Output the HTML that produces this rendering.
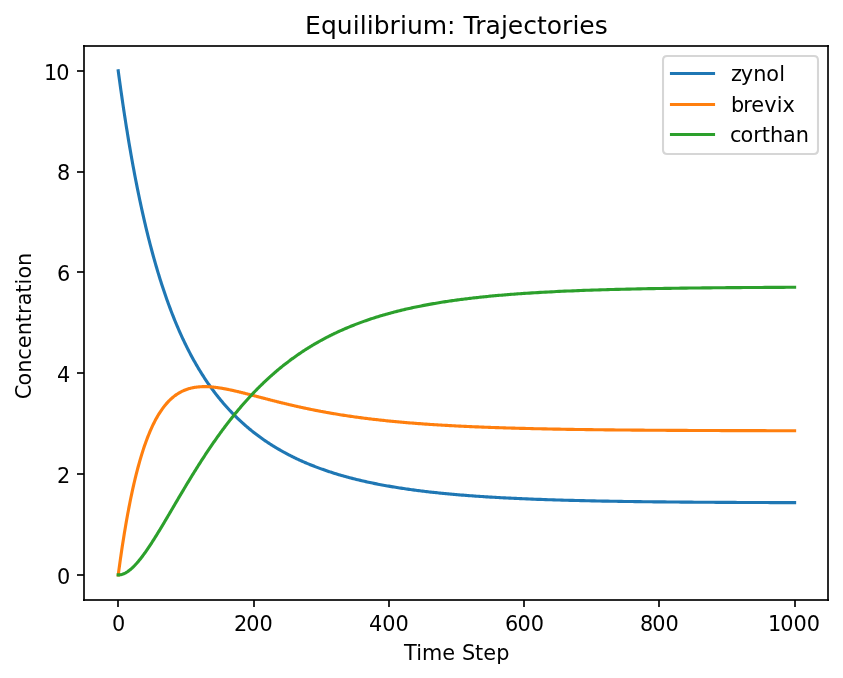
<!DOCTYPE html>
<html lang="en">
<head>
<meta charset="utf-8">
<title>Equilibrium: Trajectories</title>
<style>
html,body{margin:0;padding:0;background:#ffffff;}
body{width:843px;height:678px;overflow:hidden;}
svg{display:block;}
svg text{font-family:"DejaVu Sans","Liberation Sans",sans-serif;fill:#000000;}
.curve{fill:none;stroke-width:3.125;stroke-linecap:square;stroke-linejoin:round;}
.ax{fill:#000000;fill-opacity:0.835;}
</style>
</head>
<body>
<svg width="843" height="678" viewBox="0 0 843 678">
<rect x="0" y="0" width="843" height="678" fill="#ffffff"/>

<g class="ax" shape-rendering="crispEdges">
<rect x="117" y="600" width="2" height="7"/>
<rect x="253" y="600" width="2" height="7"/>
<rect x="388" y="600" width="2" height="7"/>
<rect x="523" y="600" width="2" height="7"/>
<rect x="658" y="600" width="2" height="7"/>
<rect x="794" y="600" width="2" height="7"/>
<rect x="77" y="70" width="7" height="2"/>
<rect x="77" y="171" width="7" height="2"/>
<rect x="77" y="271" width="7" height="2"/>
<rect x="77" y="372" width="7" height="2"/>
<rect x="77" y="473" width="7" height="2"/>
<rect x="77" y="574" width="7" height="2"/>
</g>
<g font-size="20.833">
<text x="111.98" y="630.56" font-size="20.833">0</text>
<text x="233.88 246.13 259.38" y="630.56" font-size="20.833">200</text>
<text x="368.9 382.15 395.4" y="630.56" font-size="20.833">400</text>
<text x="504.93 517.43 530.68" y="630.56" font-size="20.833">600</text>
<text x="639.95 652.2 665.45" y="630.56" font-size="20.833">800</text>
<text x="767.97 780.22 793.47 806.72" y="630.56" font-size="20.833">1000</text>
<text x="56.94" y="583.61" font-size="20.833">0</text>
<text x="56.94" y="482.56" font-size="20.833">2</text>
<text x="56.94" y="381.51" font-size="20.833">4</text>
<text x="56.94" y="280.59" font-size="20.833">6</text>
<text x="56.94" y="179.54" font-size="20.833">8</text>
<text x="43.94 56.19" y="79.61" font-size="20.833">10</text>
<text x="403.91 416.15 421.97 442.16 455.13 461.9 474.9 483.22 496.19" y="659.56" font-size="20.833">Time Step</text>
<text x="-42.38 -28.61 -15.89 -2.84 8.71 21.64 34.69 42.96 51.63 64.25 72.39 78.41 90.88" y="326.45" font-size="20.833" transform="rotate(-90 30.54 326.45)">Concentration</text>
</g>
<clipPath id="axclip"><rect x="84.42" y="45.68" width="744" height="554.4"/></clipPath>
<g clip-path="url(#axclip)">
<path class="curve" stroke="#1f77b4" d="M118.23 70.88L118.91 75.92 119.59 80.89 120.26 85.78 120.94 90.60 121.62 95.34 122.29 100.02 122.97 104.62 123.65 109.16 124.32 113.63 125.00 118.04 125.67 122.38 126.35 126.66 127.03 130.87 127.70 135.03 128.38 139.12 129.06 143.15 129.73 147.13 130.41 151.05 131.09 154.92 131.76 158.73 132.44 162.48 133.11 166.18 133.79 169.83 134.47 173.43 135.14 176.98 135.82 180.48 136.50 183.92 137.17 187.33 137.85 190.68 138.53 193.99 139.20 197.25 139.88 200.47 140.55 203.64 141.23 206.77 141.91 209.86 142.58 212.90 143.26 215.91 143.94 218.87 144.61 221.79 145.29 224.68 145.97 227.52 146.64 230.33 147.32 233.10 147.99 235.84 148.67 238.53 149.35 241.20 150.02 243.82 150.70 246.42 151.38 248.98 152.05 251.50 152.73 254.00 153.41 256.46 154.08 258.89 154.76 261.29 155.43 263.66 156.11 266.00 156.79 268.30 157.46 270.58 158.14 272.83 158.82 275.06 159.49 277.25 160.17 279.42 160.85 281.56 161.52 283.67 162.20 285.76 162.87 287.82 163.55 289.86 164.23 291.87 164.90 293.86 165.58 295.82 166.26 297.76 166.93 299.68 167.61 301.57 168.29 303.44 168.96 305.29 169.64 307.12 170.31 308.92 170.99 310.70 171.67 312.47 172.34 314.21 173.02 315.93 173.70 317.63 174.37 319.31 175.05 320.97 175.73 322.62 176.40 324.24 177.08 325.85 177.75 327.43 178.43 329.00 179.11 330.55 179.78 332.09 180.46 333.60 181.14 335.10 181.81 336.58 182.49 338.05 183.17 339.50 183.84 340.93 184.52 342.35 185.19 343.75 185.87 345.14 186.55 346.51 187.22 347.87 187.90 349.21 188.58 350.54 189.25 351.85 189.93 353.15 190.61 354.43 191.28 355.70 191.96 356.96 192.63 358.21 193.31 359.44 193.99 360.66 194.66 361.86 195.34 363.05 196.02 364.23 196.69 365.40 197.37 366.56 198.05 367.70 198.72 368.83 199.40 369.96 200.07 371.06 200.75 372.16 201.43 373.25 202.10 374.32 202.78 375.39 203.46 376.44 204.13 377.49 204.81 378.52 205.49 379.54 206.16 380.55 206.84 381.55 207.51 382.55 208.19 383.53 208.87 384.50 209.54 385.47 210.22 386.42 210.90 387.36 211.57 388.30 212.25 389.22 212.93 390.14 213.60 391.05 214.28 391.95 214.95 392.84 215.63 393.72 216.31 394.60 216.98 395.46 217.66 396.32 218.34 397.17 219.01 398.01 219.69 398.85 220.37 399.67 221.04 400.49 221.72 401.30 222.39 402.10 223.07 402.90 223.75 403.68 224.42 404.47 225.10 405.24 225.78 406.01 226.45 406.76 227.13 407.52 227.81 408.26 228.48 409.00 229.16 409.73 229.83 410.46 230.51 411.18 231.19 411.89 231.86 412.60 232.54 413.30 233.22 413.99 233.89 414.68 234.57 415.36 235.25 416.03 235.92 416.70 236.60 417.36 237.27 418.02 237.95 418.67 238.63 419.32 239.30 419.96 239.98 420.59 240.66 421.22 241.33 421.85 242.01 422.47 242.69 423.08 243.36 423.69 244.04 424.29 244.71 424.89 245.39 425.48 246.07 426.07 246.74 426.65 247.42 427.22 248.10 427.80 248.77 428.36 249.45 428.93 250.13 429.48 250.80 430.04 251.48 430.59 252.15 431.13 252.83 431.67 253.51 432.20 254.18 432.73 254.86 433.26 255.54 433.78 256.21 434.30 256.89 434.81 257.57 435.32 258.24 435.82 258.92 436.32 259.59 436.82 260.27 437.31 260.95 437.80 261.62 438.28 262.30 438.76 262.98 439.24 263.65 439.71 264.33 440.18 265.01 440.64 265.68 441.11 266.36 441.56 267.03 442.02 267.71 442.47 268.39 442.91 269.06 443.35 269.74 443.79 270.42 444.23 271.09 444.66 271.77 445.09 272.45 445.51 273.12 445.94 273.80 446.35 274.47 446.77 275.15 447.18 275.83 447.59 276.50 448.00 277.18 448.40 277.86 448.80 278.53 449.19 279.21 449.58 279.89 449.97 280.56 450.36 281.24 450.74 281.91 451.12 282.59 451.50 283.27 451.88 283.94 452.25 284.62 452.62 285.30 452.98 285.97 453.35 286.65 453.71 287.33 454.06 288.00 454.42 288.68 454.77 289.35 455.12 290.03 455.47 290.71 455.81 291.38 456.15 292.06 456.49 292.74 456.83 293.41 457.16 294.09 457.49 294.77 457.82 295.44 458.14 296.12 458.47 296.79 458.79 297.47 459.11 298.15 459.42 298.82 459.74 299.50 460.05 300.18 460.36 300.85 460.66 301.53 460.97 302.21 461.27 302.88 461.57 303.56 461.86 304.23 462.16 304.91 462.45 305.59 462.74 306.26 463.03 306.94 463.32 307.62 463.60 308.29 463.88 308.97 464.16 309.65 464.44 310.32 464.72 311.00 464.99 311.67 465.26 312.35 465.53 313.03 465.80 313.70 466.07 314.38 466.33 315.06 466.59 315.73 466.85 316.41 467.11 317.09 467.36 317.76 467.62 318.44 467.87 319.11 468.12 319.79 468.37 320.47 468.62 321.14 468.86 321.82 469.10 322.50 469.34 323.17 469.58 323.85 469.82 324.53 470.06 325.20 470.29 325.88 470.52 326.55 470.75 327.23 470.98 327.91 471.21 328.58 471.44 329.26 471.66 329.94 471.88 330.61 472.10 331.29 472.32 331.97 472.54 332.64 472.75 333.32 472.97 333.99 473.18 334.67 473.39 336.02 473.81 337.38 474.22 338.73 474.63 340.08 475.03 341.43 475.42 342.79 475.81 344.14 476.19 345.49 476.57 346.85 476.94 348.20 477.31 349.55 477.67 350.90 478.02 352.26 478.37 353.61 478.72 354.96 479.06 356.31 479.40 357.67 479.73 359.02 480.05 360.37 480.37 361.73 480.69 363.08 481.00 364.43 481.31 365.78 481.61 367.14 481.91 368.49 482.21 369.84 482.50 371.19 482.79 372.55 483.07 373.90 483.35 375.25 483.62 376.61 483.89 377.96 484.16 379.31 484.42 380.66 484.68 382.02 484.94 383.37 485.19 384.72 485.44 386.07 485.68 387.43 485.92 388.78 486.16 390.13 486.40 391.49 486.63 392.84 486.85 394.19 487.08 395.54 487.30 396.90 487.52 398.25 487.73 399.60 487.95 400.95 488.16 402.31 488.36 403.66 488.57 405.01 488.77 406.37 488.96 407.72 489.16 409.07 489.35 410.42 489.54 411.78 489.73 413.13 489.91 414.48 490.09 415.83 490.27 417.19 490.45 418.54 490.62 419.89 490.79 421.25 490.96 422.60 491.13 423.95 491.29 425.30 491.46 426.66 491.62 428.01 491.77 429.36 491.93 430.71 492.08 432.07 492.23 433.42 492.38 434.77 492.53 436.13 492.67 437.48 492.82 438.83 492.96 440.18 493.10 441.54 493.23 442.89 493.37 444.24 493.50 445.59 493.63 446.95 493.76 448.30 493.89 449.65 494.01 451.01 494.14 452.36 494.26 453.71 494.38 455.06 494.50 456.42 494.62 457.77 494.73 459.12 494.85 460.47 494.96 461.83 495.07 463.18 495.18 464.53 495.29 465.89 495.39 467.24 495.50 468.59 495.60 469.94 495.70 471.30 495.80 472.65 495.90 474.00 496.00 475.35 496.09 476.71 496.19 478.06 496.28 479.41 496.37 480.77 496.47 482.12 496.56 483.47 496.64 484.82 496.73 486.18 496.82 487.53 496.90 488.88 496.99 490.23 497.07 491.59 497.15 492.94 497.23 494.29 497.31 495.65 497.39 497.00 497.46 498.35 497.54 499.70 497.61 501.06 497.69 502.41 497.76 503.76 497.83 505.11 497.90 506.47 497.97 507.82 498.04 509.17 498.11 510.53 498.17 511.88 498.24 513.23 498.30 514.58 498.37 515.94 498.43 517.29 498.49 518.64 498.55 519.99 498.61 521.35 498.67 522.70 498.73 524.05 498.79 526.76 498.90 529.46 499.01 532.17 499.12 534.87 499.23 537.58 499.33 540.29 499.43 542.99 499.52 545.70 499.61 548.40 499.71 551.11 499.79 553.81 499.88 556.52 499.96 559.22 500.04 561.93 500.12 564.63 500.20 567.34 500.27 570.05 500.35 572.75 500.42 575.46 500.48 578.16 500.55 580.87 500.62 583.57 500.68 586.28 500.74 588.98 500.80 591.69 500.86 594.39 500.91 597.10 500.97 599.81 501.02 602.51 501.07 605.22 501.12 607.92 501.17 610.63 501.22 613.33 501.26 616.04 501.31 618.74 501.35 621.45 501.40 624.15 501.44 626.86 501.48 629.57 501.52 632.27 501.55 634.98 501.59 637.68 501.63 640.39 501.66 643.09 501.69 645.80 501.73 648.50 501.76 651.21 501.79 653.91 501.82 656.62 501.85 659.33 501.88 662.03 501.91 664.74 501.93 667.44 501.96 670.15 501.99 672.85 502.01 675.56 502.04 678.26 502.06 680.97 502.08 683.67 502.10 686.38 502.13 689.09 502.15 691.79 502.17 694.50 502.19 697.20 502.21 699.91 502.22 702.61 502.24 705.32 502.26 708.02 502.28 710.73 502.29 713.43 502.31 716.14 502.33 718.85 502.34 721.55 502.36 724.26 502.37 726.96 502.39 729.67 502.40 732.37 502.41 735.08 502.43 737.78 502.44 740.49 502.45 743.19 502.46 745.90 502.47 748.61 502.49 751.31 502.50 754.02 502.51 756.72 502.52 759.43 502.53 762.13 502.54 764.84 502.55 767.54 502.56 770.25 502.57 772.95 502.57 775.66 502.58 778.37 502.59 781.07 502.60 783.78 502.61 786.48 502.62 789.19 502.62 791.89 502.63 794.60 502.64"/>
<path class="curve" stroke="#ff7f0e" d="M118.23 574.88L118.91 569.84 119.59 564.92 120.26 560.11 120.94 555.41 121.62 550.82 122.29 546.33 122.97 541.95 123.65 537.68 124.32 533.50 125.00 529.42 125.67 525.43 126.35 521.54 127.03 517.75 127.70 514.04 128.38 510.42 129.06 506.88 129.73 503.43 130.41 500.06 131.09 496.78 131.76 493.57 132.44 490.44 133.11 487.38 133.79 484.40 134.47 481.49 135.14 478.66 135.82 475.89 136.50 473.19 137.17 470.56 137.85 467.99 138.53 465.49 139.20 463.04 139.88 460.66 140.55 458.34 141.23 456.08 141.91 453.87 142.58 451.73 143.26 449.63 143.94 447.59 144.61 445.60 145.29 443.67 145.97 441.78 146.64 439.94 147.32 438.15 147.99 436.41 148.67 434.71 149.35 433.06 150.02 431.46 150.70 429.89 151.38 428.37 152.05 426.89 152.73 425.45 153.41 424.05 154.08 422.69 154.76 421.36 155.43 420.07 156.11 418.82 156.79 417.61 157.46 416.42 158.14 415.28 158.82 414.16 159.49 413.08 160.17 412.03 160.85 411.01 161.52 410.02 162.20 409.06 162.87 408.12 163.55 407.22 164.23 406.35 164.90 405.50 165.58 404.67 166.26 403.88 166.93 403.11 167.61 402.36 168.29 401.64 168.96 400.94 169.64 400.26 170.31 399.61 170.99 398.97 171.67 398.36 172.34 397.77 173.02 397.20 173.70 396.65 174.37 396.13 175.05 395.61 175.73 395.12 176.40 394.65 177.08 394.19 177.75 393.75 178.43 393.33 179.11 392.93 179.78 392.54 180.46 392.17 181.14 391.81 181.81 391.47 182.49 391.14 183.17 390.83 183.84 390.53 184.52 390.24 185.19 389.97 185.87 389.71 186.55 389.46 187.22 389.23 187.90 389.01 188.58 388.80 189.25 388.60 189.93 388.41 190.61 388.23 191.28 388.07 191.96 387.91 192.63 387.77 193.31 387.63 193.99 387.51 194.66 387.39 195.34 387.28 196.02 387.19 196.69 387.10 197.37 387.02 198.05 386.95 198.72 386.88 199.40 386.82 200.07 386.78 200.75 386.74 201.43 386.70 202.10 386.67 202.78 386.65 203.46 386.64 204.13 386.64 204.81 386.64 205.49 386.64 206.16 386.65 206.84 386.67 207.51 386.69 208.19 386.72 208.87 386.76 209.54 386.80 210.22 386.84 210.90 386.89 211.57 386.95 212.25 387.01 212.93 387.07 213.60 387.14 214.28 387.21 214.95 387.29 215.63 387.37 216.31 387.45 216.98 387.54 217.66 387.64 218.34 387.73 219.01 387.83 219.69 387.93 220.37 388.04 221.04 388.15 221.72 388.26 222.39 388.38 223.07 388.49 223.75 388.61 224.42 388.74 225.10 388.86 225.78 388.99 226.45 389.12 227.13 389.26 227.81 389.39 228.48 389.53 229.16 389.67 229.83 389.81 230.51 389.95 231.19 390.10 231.86 390.25 232.54 390.40 233.22 390.55 233.89 390.70 234.57 390.85 235.25 391.01 235.92 391.17 236.60 391.32 237.27 391.48 237.95 391.64 238.63 391.81 239.30 391.97 239.98 392.13 240.66 392.30 241.33 392.46 242.01 392.63 242.69 392.80 243.36 392.97 244.04 393.14 244.71 393.31 245.39 393.48 246.07 393.65 246.74 393.82 247.42 393.99 248.10 394.17 248.77 394.34 249.45 394.51 250.13 394.69 250.80 394.86 251.48 395.04 252.15 395.21 252.83 395.39 253.51 395.57 254.18 395.74 254.86 395.92 255.54 396.10 256.21 396.27 256.89 396.45 257.57 396.63 258.24 396.80 258.92 396.98 259.59 397.16 260.27 397.33 260.95 397.51 261.62 397.69 262.30 397.86 262.98 398.04 263.65 398.22 264.33 398.39 265.01 398.57 265.68 398.75 266.36 398.92 267.03 399.10 267.71 399.27 268.39 399.45 269.06 399.62 269.74 399.80 270.42 399.97 271.09 400.14 271.77 400.32 272.45 400.49 273.12 400.66 273.80 400.83 274.47 401.01 275.15 401.18 275.83 401.35 276.50 401.52 277.18 401.69 277.86 401.86 278.53 402.03 279.21 402.19 279.89 402.36 280.56 402.53 281.24 402.70 281.91 402.86 282.59 403.03 283.27 403.19 283.94 403.36 284.62 403.52 285.30 403.69 285.97 403.85 286.65 404.01 287.33 404.17 288.00 404.33 288.68 404.50 289.35 404.66 290.03 404.81 290.71 404.97 291.38 405.13 292.06 405.29 292.74 405.45 293.41 405.60 294.09 405.76 294.77 405.91 295.44 406.07 296.12 406.22 296.79 406.37 297.47 406.52 298.15 406.68 298.82 406.83 299.50 406.98 300.18 407.13 300.85 407.27 301.53 407.42 302.21 407.57 302.88 407.72 303.56 407.86 304.23 408.01 304.91 408.15 305.59 408.30 306.26 408.44 306.94 408.58 307.62 408.72 308.29 408.86 308.97 409.00 309.65 409.14 310.32 409.28 311.00 409.42 311.67 409.56 312.35 409.70 313.03 409.83 313.70 409.97 314.38 410.10 315.06 410.24 315.73 410.37 316.41 410.50 317.09 410.63 317.76 410.76 318.44 410.90 319.11 411.02 319.79 411.15 320.47 411.28 321.14 411.41 321.82 411.54 322.50 411.66 323.17 411.79 323.85 411.91 324.53 412.04 325.20 412.16 325.88 412.28 326.55 412.41 327.23 412.53 327.91 412.65 328.58 412.77 329.26 412.89 329.94 413.01 330.61 413.12 331.29 413.24 331.97 413.36 332.64 413.47 333.32 413.59 333.99 413.70 334.67 413.82 336.02 414.04 337.38 414.27 338.73 414.49 340.08 414.70 341.43 414.92 342.79 415.13 344.14 415.34 345.49 415.55 346.85 415.75 348.20 415.96 349.55 416.16 350.90 416.35 352.26 416.55 353.61 416.74 354.96 416.93 356.31 417.12 357.67 417.31 359.02 417.49 360.37 417.67 361.73 417.85 363.08 418.02 364.43 418.20 365.78 418.37 367.14 418.54 368.49 418.71 369.84 418.87 371.19 419.04 372.55 419.20 373.90 419.36 375.25 419.51 376.61 419.67 377.96 419.82 379.31 419.97 380.66 420.12 382.02 420.27 383.37 420.41 384.72 420.56 386.07 420.70 387.43 420.84 388.78 420.97 390.13 421.11 391.49 421.24 392.84 421.38 394.19 421.51 395.54 421.64 396.90 421.76 398.25 421.89 399.60 422.01 400.95 422.13 402.31 422.25 403.66 422.37 405.01 422.49 406.37 422.61 407.72 422.72 409.07 422.83 410.42 422.94 411.78 423.05 413.13 423.16 414.48 423.27 415.83 423.37 417.19 423.48 418.54 423.58 419.89 423.68 421.25 423.78 422.60 423.88 423.95 423.97 425.30 424.07 426.66 424.16 428.01 424.26 429.36 424.35 430.71 424.44 432.07 424.53 433.42 424.62 434.77 424.70 436.13 424.79 437.48 424.87 438.83 424.96 440.18 425.04 441.54 425.12 442.89 425.20 444.24 425.28 445.59 425.36 446.95 425.43 448.30 425.51 449.65 425.58 451.01 425.66 452.36 425.73 453.71 425.80 455.06 425.87 456.42 425.94 457.77 426.01 459.12 426.08 460.47 426.14 461.83 426.21 463.18 426.27 464.53 426.34 465.89 426.40 467.24 426.46 468.59 426.52 469.94 426.59 471.30 426.65 472.65 426.70 474.00 426.76 475.35 426.82 476.71 426.88 478.06 426.93 479.41 426.99 480.77 427.04 482.12 427.09 483.47 427.15 484.82 427.20 486.18 427.25 487.53 427.30 488.88 427.35 490.23 427.40 491.59 427.45 492.94 427.50 494.29 427.54 495.65 427.59 497.00 427.64 498.35 427.68 499.70 427.73 501.06 427.77 502.41 427.81 503.76 427.86 505.11 427.90 506.47 427.94 507.82 427.98 509.17 428.02 510.53 428.06 511.88 428.10 513.23 428.14 514.58 428.18 515.94 428.21 517.29 428.25 518.64 428.29 519.99 428.32 521.35 428.36 522.70 428.40 524.05 428.43 526.76 428.50 529.46 428.56 532.17 428.63 534.87 428.69 537.58 428.75 540.29 428.81 542.99 428.87 545.70 428.92 548.40 428.98 551.11 429.03 553.81 429.08 556.52 429.13 559.22 429.18 561.93 429.23 564.63 429.27 567.34 429.32 570.05 429.36 572.75 429.40 575.46 429.44 578.16 429.48 580.87 429.52 583.57 429.56 586.28 429.60 588.98 429.63 591.69 429.67 594.39 429.70 597.10 429.73 599.81 429.77 602.51 429.80 605.22 429.83 607.92 429.86 610.63 429.88 613.33 429.91 616.04 429.94 618.74 429.97 621.45 429.99 624.15 430.02 626.86 430.04 629.57 430.06 632.27 430.09 634.98 430.11 637.68 430.13 640.39 430.15 643.09 430.17 645.80 430.19 648.50 430.21 651.21 430.23 653.91 430.25 656.62 430.26 659.33 430.28 662.03 430.30 664.74 430.31 667.44 430.33 670.15 430.34 672.85 430.36 675.56 430.37 678.26 430.39 680.97 430.40 683.67 430.42 686.38 430.43 689.09 430.44 691.79 430.45 694.50 430.47 697.20 430.48 699.91 430.49 702.61 430.50 705.32 430.51 708.02 430.52 710.73 430.53 713.43 430.54 716.14 430.55 718.85 430.56 721.55 430.57 724.26 430.58 726.96 430.58 729.67 430.59 732.37 430.60 735.08 430.61 737.78 430.62 740.49 430.62 743.19 430.63 745.90 430.64 748.61 430.64 751.31 430.65 754.02 430.66 756.72 430.66 759.43 430.67 762.13 430.68 764.84 430.68 767.54 430.69 770.25 430.69 772.95 430.70 775.66 430.70 778.37 430.71 781.07 430.71 783.78 430.72 786.48 430.72 789.19 430.73 791.89 430.73 794.60 430.74"/>
<path class="curve" stroke="#2ca02c" d="M118.23 574.88L118.91 574.88 119.59 574.84 120.26 574.76 120.94 574.65 121.62 574.49 122.29 574.30 122.97 574.07 123.65 573.81 124.32 573.52 125.00 573.19 125.67 572.84 126.35 572.45 127.03 572.03 127.70 571.59 128.38 571.11 129.06 570.61 129.73 570.09 130.41 569.53 131.09 568.96 131.76 568.36 132.44 567.73 133.11 567.08 133.79 566.42 134.47 565.73 135.14 565.02 135.82 564.28 136.50 563.54 137.17 562.77 137.85 561.98 138.53 561.18 139.20 560.36 139.88 559.52 140.55 558.67 141.23 557.80 141.91 556.92 142.58 556.02 143.26 555.11 143.94 554.19 144.61 553.25 145.29 552.31 145.97 551.35 146.64 550.38 147.32 549.39 147.99 548.40 148.67 547.40 149.35 546.39 150.02 545.37 150.70 544.34 151.38 543.30 152.05 542.26 152.73 541.20 153.41 540.14 154.08 539.07 154.76 538.00 155.43 536.92 156.11 535.83 156.79 534.74 157.46 533.64 158.14 532.54 158.82 531.43 159.49 530.32 160.17 529.20 160.85 528.08 161.52 526.96 162.20 525.83 162.87 524.70 163.55 523.57 164.23 522.43 164.90 521.29 165.58 520.15 166.26 519.01 166.93 517.87 167.61 516.72 168.29 515.57 168.96 514.42 169.64 513.27 170.31 512.12 170.99 510.97 171.67 509.82 172.34 508.67 173.02 507.52 173.70 506.37 174.37 505.21 175.05 504.06 175.73 502.91 176.40 501.76 177.08 500.61 177.75 499.46 178.43 498.32 179.11 497.17 179.78 496.02 180.46 494.88 181.14 493.74 181.81 492.60 182.49 491.46 183.17 490.33 183.84 489.19 184.52 488.06 185.19 486.93 185.87 485.80 186.55 484.68 187.22 483.55 187.90 482.43 188.58 481.32 189.25 480.20 189.93 479.09 190.61 477.98 191.28 476.88 191.96 475.77 192.63 474.67 193.31 473.58 193.99 472.49 194.66 471.40 195.34 470.31 196.02 469.23 196.69 468.15 197.37 467.07 198.05 466.00 198.72 464.93 199.40 463.87 200.07 462.81 200.75 461.75 201.43 460.70 202.10 459.65 202.78 458.61 203.46 457.57 204.13 456.53 204.81 455.50 205.49 454.47 206.16 453.44 206.84 452.42 207.51 451.41 208.19 450.40 208.87 449.39 209.54 448.39 210.22 447.39 210.90 446.39 211.57 445.40 212.25 444.42 212.93 443.44 213.60 442.46 214.28 441.49 214.95 440.52 215.63 439.56 216.31 438.60 216.98 437.64 217.66 436.69 218.34 435.75 219.01 434.81 219.69 433.87 220.37 432.94 221.04 432.01 221.72 431.09 222.39 430.17 223.07 429.26 223.75 428.35 224.42 427.45 225.10 426.55 225.78 425.65 226.45 424.76 227.13 423.88 227.81 423.00 228.48 422.12 229.16 421.25 229.83 420.38 230.51 419.52 231.19 418.66 231.86 417.81 232.54 416.96 233.22 416.11 233.89 415.27 234.57 414.44 235.25 413.61 235.92 412.78 236.60 411.96 237.27 411.14 237.95 410.33 238.63 409.52 239.30 408.72 239.98 407.92 240.66 407.13 241.33 406.34 242.01 405.55 242.69 404.77 243.36 404.00 244.04 403.23 244.71 402.46 245.39 401.69 246.07 400.94 246.74 400.18 247.42 399.43 248.10 398.69 248.77 397.95 249.45 397.21 250.13 396.48 250.80 395.75 251.48 395.03 252.15 394.31 252.83 393.59 253.51 392.88 254.18 392.17 254.86 391.47 255.54 390.77 256.21 390.08 256.89 389.39 257.57 388.70 258.24 388.02 258.92 387.35 259.59 386.67 260.27 386.00 260.95 385.34 261.62 384.68 262.30 384.02 262.98 383.37 263.65 382.72 264.33 382.08 265.01 381.44 265.68 380.80 266.36 380.17 267.03 379.54 267.71 378.91 268.39 378.29 269.06 377.67 269.74 377.06 270.42 376.45 271.09 375.85 271.77 375.24 272.45 374.65 273.12 374.05 273.80 373.46 274.47 372.87 275.15 372.29 275.83 371.71 276.50 371.14 277.18 370.56 277.86 370.00 278.53 369.43 279.21 368.87 279.89 368.31 280.56 367.76 281.24 367.21 281.91 366.66 282.59 366.12 283.27 365.58 283.94 365.04 284.62 364.51 285.30 363.98 285.97 363.45 286.65 362.93 287.33 362.41 288.00 361.90 288.68 361.38 289.35 360.88 290.03 360.37 290.71 359.87 291.38 359.37 292.06 358.87 292.74 358.38 293.41 357.89 294.09 357.40 294.77 356.92 295.44 356.44 296.12 355.96 296.79 355.49 297.47 355.02 298.15 354.55 298.82 354.09 299.50 353.63 300.18 353.17 300.85 352.71 301.53 352.26 302.21 351.81 302.88 351.37 303.56 350.92 304.23 350.48 304.91 350.04 305.59 349.61 306.26 349.18 306.94 348.75 307.62 348.32 308.29 347.90 308.97 347.48 309.65 347.06 310.32 346.65 311.00 346.24 311.67 345.83 312.35 345.42 313.03 345.02 313.70 344.62 314.38 344.22 315.06 343.82 315.73 343.43 316.41 343.04 317.09 342.65 317.76 342.27 318.44 341.88 319.11 341.50 319.79 341.13 320.47 340.75 321.14 340.38 321.82 340.01 322.50 339.64 323.17 339.28 323.85 338.92 324.53 338.56 325.20 338.20 325.88 337.84 326.55 337.49 327.23 337.14 327.91 336.79 328.58 336.45 329.26 336.10 329.94 335.76 330.61 335.42 331.29 335.09 331.97 334.75 332.64 334.42 333.32 334.09 333.99 333.77 334.67 333.44 336.02 332.80 337.38 332.16 338.73 331.54 340.08 330.92 341.43 330.31 342.79 329.71 344.14 329.12 345.49 328.53 346.85 327.96 348.20 327.39 349.55 326.83 350.90 326.27 352.26 325.73 353.61 325.19 354.96 324.66 356.31 324.13 357.67 323.62 359.02 323.11 360.37 322.61 361.73 322.11 363.08 321.62 364.43 321.14 365.78 320.66 367.14 320.20 368.49 319.73 369.84 319.28 371.19 318.83 372.55 318.38 373.90 317.95 375.25 317.52 376.61 317.09 377.96 316.67 379.31 316.26 380.66 315.85 382.02 315.45 383.37 315.05 384.72 314.66 386.07 314.27 387.43 313.89 388.78 313.51 390.13 313.14 391.49 312.78 392.84 312.42 394.19 312.06 395.54 311.71 396.90 311.37 398.25 311.03 399.60 310.69 400.95 310.36 402.31 310.03 403.66 309.71 405.01 309.39 406.37 309.08 407.72 308.77 409.07 308.47 410.42 308.17 411.78 307.87 413.13 307.58 414.48 307.29 415.83 307.01 417.19 306.73 418.54 306.45 419.89 306.18 421.25 305.91 422.60 305.64 423.95 305.38 425.30 305.12 426.66 304.87 428.01 304.62 429.36 304.37 430.71 304.13 432.07 303.89 433.42 303.65 434.77 303.42 436.13 303.19 437.48 302.96 438.83 302.74 440.18 302.52 441.54 302.30 442.89 302.08 444.24 301.87 445.59 301.66 446.95 301.46 448.30 301.25 449.65 301.05 451.01 300.86 452.36 300.66 453.71 300.47 455.06 300.28 456.42 300.09 457.77 299.91 459.12 299.73 460.47 299.55 461.83 299.37 463.18 299.20 464.53 299.03 465.89 298.86 467.24 298.69 468.59 298.53 469.94 298.36 471.30 298.20 472.65 298.05 474.00 297.89 475.35 297.74 476.71 297.58 478.06 297.44 479.41 297.29 480.77 297.14 482.12 297.00 483.47 296.86 484.82 296.72 486.18 296.58 487.53 296.45 488.88 296.31 490.23 296.18 491.59 296.05 492.94 295.93 494.29 295.80 495.65 295.67 497.00 295.55 498.35 295.43 499.70 295.31 501.06 295.19 502.41 295.08 503.76 294.96 505.11 294.85 506.47 294.74 507.82 294.63 509.17 294.52 510.53 294.42 511.88 294.31 513.23 294.21 514.58 294.11 515.94 294.00 517.29 293.91 518.64 293.81 519.99 293.71 521.35 293.62 522.70 293.52 524.05 293.43 526.76 293.25 529.46 293.07 532.17 292.90 534.87 292.73 537.58 292.57 540.29 292.41 542.99 292.26 545.70 292.11 548.40 291.97 551.11 291.83 553.81 291.69 556.52 291.56 559.22 291.43 561.93 291.30 564.63 291.18 567.34 291.06 570.05 290.94 572.75 290.83 575.46 290.72 578.16 290.62 580.87 290.51 583.57 290.41 586.28 290.31 588.98 290.22 591.69 290.13 594.39 290.04 597.10 289.95 599.81 289.86 602.51 289.78 605.22 289.70 607.92 289.62 610.63 289.55 613.33 289.47 616.04 289.40 618.74 289.33 621.45 289.26 624.15 289.20 626.86 289.13 629.57 289.07 632.27 289.01 634.98 288.95 637.68 288.89 640.39 288.84 643.09 288.78 645.80 288.73 648.50 288.68 651.21 288.63 653.91 288.58 656.62 288.54 659.33 288.49 662.03 288.45 664.74 288.40 667.44 288.36 670.15 288.32 672.85 288.28 675.56 288.24 678.26 288.20 680.97 288.17 683.67 288.13 686.38 288.10 689.09 288.06 691.79 288.03 694.50 288.00 697.20 287.97 699.91 287.94 702.61 287.91 705.32 287.88 708.02 287.85 710.73 287.83 713.43 287.80 716.14 287.77 718.85 287.75 721.55 287.73 724.26 287.70 726.96 287.68 729.67 287.66 732.37 287.64 735.08 287.61 737.78 287.59 740.49 287.57 743.19 287.56 745.90 287.54 748.61 287.52 751.31 287.50 754.02 287.48 756.72 287.47 759.43 287.45 762.13 287.44 764.84 287.42 767.54 287.41 770.25 287.39 772.95 287.38 775.66 287.36 778.37 287.35 781.07 287.34 783.78 287.32 786.48 287.31 789.19 287.30 791.89 287.29 794.60 287.28"/>
</g>
<g class="ax" shape-rendering="crispEdges">
<rect x="83" y="45" width="2" height="556"/>
<rect x="827" y="45" width="2" height="556"/>
<rect x="83" y="599" width="746" height="2"/>
<rect x="83" y="45" width="746" height="2"/>
</g>
<text x="304.91 320.98 336.63 352.64 359.74 366.72 373.7 389.47 399.9 406.88 422.64 446.9 455.48 463.46 475.22 485.4 500.88 507.73 523.14 536.92 546.63 561.95 572.38 579.23 594.65" y="33.62" font-size="25">Equilibrium: Trajectories</text>
<g>
<path d="M667.167 56L813.833 56Q818 56 818 60.167L818 149.833Q818 154 813.833 154L667.167 154Q663 154 663 149.833L663 60.167Q663 56 667.167 56Z" fill="#ffffff" stroke="#cccccc" stroke-width="2.083" stroke-linejoin="miter" opacity="0.8"/>
<path class="curve" stroke="#1f77b4" d="M671.5 73.5L713.5 73.5"/>
<path class="curve" stroke="#ff7f0e" d="M671.5 104.5L713.5 104.5"/>
<path class="curve" stroke="#2ca02c" d="M671.5 134.5L713.5 134.5"/>
<text x="730.93 740.73 753.18 766.14 779.25" y="80.58" font-size="20.833">zynol</text>
<text x="730.93 743.21 751.24 764.24 776.74 782.45" y="111.53" font-size="20.833">brevix</text>
<text x="729.94 740.47 753.17 761.71 769.96 782.99 795.71" y="141.61" font-size="20.833">corthan</text>
</g>
</svg>
</body>
</html>
